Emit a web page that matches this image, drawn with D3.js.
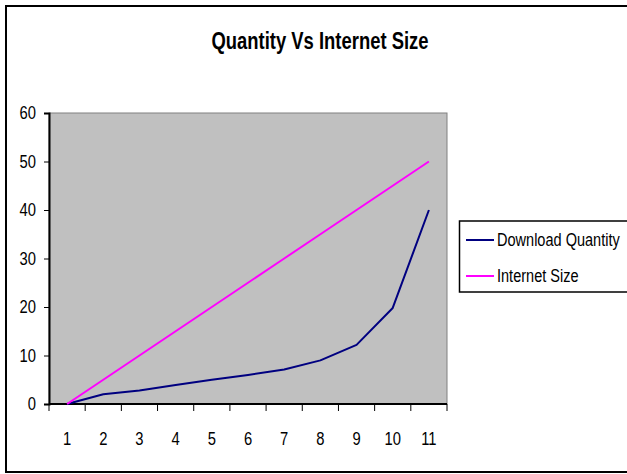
<!DOCTYPE html>
<html>
<head>
<meta charset="utf-8">
<script src="https://cdn.jsdelivr.net/npm/d3@7"></script>
<style>
  body { margin: 0; background: #fff; }
  text { font-family: "Liberation Sans Narrow", "Arial Narrow", "Liberation Sans", Arial, sans-serif; }
</style>
</head>
<body>
<div id="chart"></div>
<script>
// data
var categories = ["1", "2", "3", "4", "5", "6", "7", "8", "9", "10", "11"];
var downloadQuantity = [0, 2, 2.8, 3.9, 5, 6, 7.1, 9, 12.2, 19.8, 40];
var internetSize = [0, 5, 10, 15, 20, 25, 30, 35, 40, 45, 50];
var yTicks = [0, 10, 20, 30, 40, 50, 60];
var seriesNames = ["Download Quantity", "Internet Size"];
var seriesColors = ["#000080", "#FF00FF"];

var W = 627, H = 474;
var plot = { left: 49, top: 113, right: 447, bottom: 404 };
var NARROW = 0.82; // no narrow font installed, so squeeze text

// squeeze a text selection horizontally
function narrow(sel, factor) {
    sel.each(function() {
        var w = this.getComputedTextLength();
        d3.select(this)
            .attr("textLength", w * (factor || NARROW))
            .attr("lengthAdjust", "spacingAndGlyphs");
    });
}

var svg = d3.select("#chart").append("svg")
    .attr("width", W)
    .attr("height", H);

// outer frame
svg.append("rect")
    .attr("x", 6).attr("y", 6)
    .attr("width", W + 10).attr("height", 466)
    .attr("fill", "none")
    .attr("stroke", "#000")
    .attr("stroke-width", 2);

// title
svg.append("text")
    .attr("x", 320).attr("y", 49)
    .attr("text-anchor", "middle")
    .style("font-size", "23px")
    .style("font-weight", "bold")
    .text("Quantity Vs Internet Size")
    .attr("textLength", 217)
    .attr("lengthAdjust", "spacingAndGlyphs");

// scales
var x = d3.scaleBand().domain(categories).range([plot.left, plot.right]);
var y = d3.scaleLinear().domain([0, 60]).range([plot.bottom, plot.top]);

// plot area
svg.append("rect")
    .attr("x", plot.left).attr("y", plot.top)
    .attr("width", plot.right - plot.left)
    .attr("height", plot.bottom - plot.top)
    .attr("fill", "#C0C0C0")
    .attr("stroke", "#808080")
    .attr("stroke-width", 1);

// y axis
var yAxis = svg.append("g")
    .attr("transform", "translate(" + plot.left + ",0)")
    .call(d3.axisLeft(y).tickValues(yTicks).tickSize(5).tickPadding(8));
yAxis.select(".domain").attr("stroke", "#000").attr("stroke-width", 2);
yAxis.selectAll("text").style("font-size", "18px").attr("fill", "#000")
    .style("font-family", "'Liberation Sans Narrow', 'Arial Narrow', 'Liberation Sans', sans-serif")
    .call(narrow);

// x axis: ticks between categories, labels centred
var xAxis = svg.append("g")
    .attr("transform", "translate(0," + plot.bottom + ")");
xAxis.append("line")
    .attr("x1", plot.left).attr("x2", plot.right)
    .attr("stroke", "#000").attr("stroke-width", 2);
var tickPos = categories.map(function(c) { return x(c); }).concat([x.range()[1]]);
xAxis.selectAll(".tick")
    .data(tickPos)
    .enter().append("line")
    .attr("x1", function(d) { return d; })
    .attr("x2", function(d) { return d; })
    .attr("y1", 0).attr("y2", 7)
    .attr("stroke", "#000").attr("stroke-width", 1);
xAxis.selectAll(".lbl")
    .data(categories)
    .enter().append("text")
    .attr("x", function(d) { return x(d) + x.bandwidth() / 2; })
    .attr("y", 41)
    .attr("text-anchor", "middle")
    .style("font-size", "18px")
    .text(function(d) { return d; })
    .call(narrow);

// lines
var series = [downloadQuantity, internetSize];
var line = d3.line()
    .x(function(d, i) { return x(categories[i]) + x.bandwidth() / 2; })
    .y(function(d) { return y(d); });

series.forEach(function(s, i) {
    svg.append("path")
        .datum(s)
        .attr("fill", "none")
        .attr("stroke", seriesColors[i])
        .attr("stroke-width", 2)
        .attr("stroke-linejoin", "round")
        .attr("d", line);
});

// legend
var legend = svg.append("g");
legend.append("rect")
    .attr("x", 459.5).attr("y", 221)
    .attr("width", 180).attr("height", 71)
    .attr("fill", "#fff")
    .attr("stroke", "#000")
    .attr("stroke-width", 1.5);
seriesNames.forEach(function(name, i) {
    var cy = 240 + i * 36;
    legend.append("line")
        .attr("x1", 466).attr("x2", 494)
        .attr("y1", cy).attr("y2", cy)
        .attr("stroke", seriesColors[i])
        .attr("stroke-width", 2);
    legend.append("text")
        .attr("x", 497).attr("y", cy + 6)
        .style("font-size", "17.5px")
        .text(name)
        .call(narrow, 0.83);
});
</script>
</body>
</html>
